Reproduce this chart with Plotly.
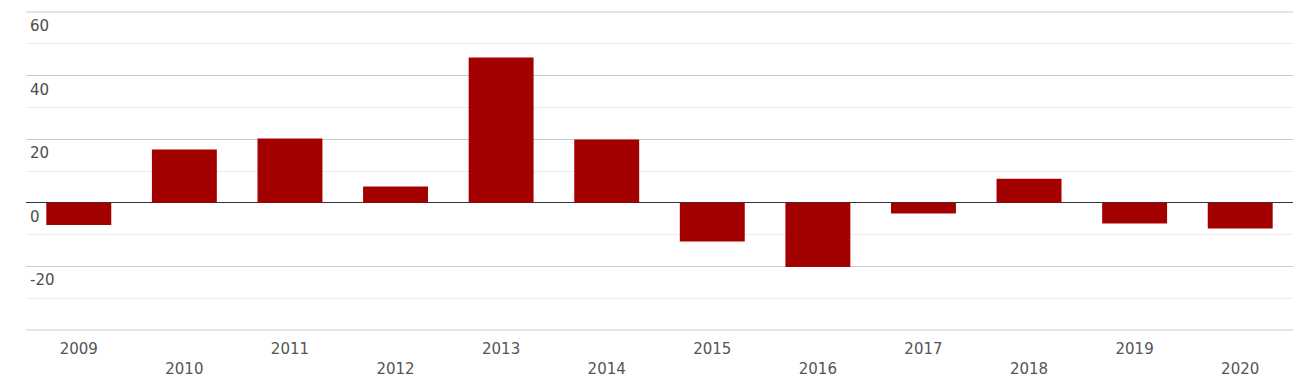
import plotly.graph_objects as go

years = ["2009", "2010", "2011", "2012", "2013", "2014", "2015", "2016", "2017", "2018", "2019", "2020"]
values = [-7.0, 16.8, 20.2, 5.1, 45.7, 19.9, -12.2, -20.2, -3.4, 7.6, -6.5, -8.1]
y_ticks = [-20, 0, 20, 40, 60]
y_tick_labels = ["-20", "0", "20", "40", "60"]
y_min, y_max = -40, 60

x_ticktext = [y if i % 2 == 0 else "<br>" + y for i, y in enumerate(years)]

fig = go.Figure(go.Bar(x=years, y=values, marker=dict(color="#a30000", line=dict(width=0))))

annotations = []
for v, t in zip(y_ticks, y_tick_labels):
    annotations.append(dict(x=0, xref="paper", y=v, yref="y", text=t, showarrow=False,
                            xanchor="left", yanchor="top", xshift=2, yshift=-3,
                            font=dict(family="DejaVu Sans", size=15, color="#4d4d4d")))

shapes = [dict(type="line", xref="paper", x0=0, x1=1, yref="y", y0=v, y1=v,
               line=dict(color="#cccccc", width=1), layer="below") for v in (y_min, y_max)]

pad = (y_max - y_min) * 1.0 / 318
fig.update_layout(
    width=1293, height=384,
    margin=dict(l=26, r=0, t=11, b=53),
    plot_bgcolor="white", paper_bgcolor="white",
    bargap=0.385,
    showlegend=False,
    annotations=annotations,
    shapes=shapes,
    xaxis=dict(tickmode="array", tickvals=years, ticktext=x_ticktext, showgrid=False,
               ticks="", ticklabelstandoff=7,
               tickfont=dict(family="DejaVu Sans", size=15, color="#555555"),
               showline=False, zeroline=False, fixedrange=True),
    yaxis=dict(range=[y_min - pad, y_max + pad], tickvals=y_ticks + [y_min], showticklabels=False,
               showgrid=True, gridcolor="#cccccc", gridwidth=1,
               minor=dict(dtick=10, tick0=0, showgrid=True, gridcolor="#ececec", gridwidth=1),
               zeroline=True, zerolinecolor="#333333", zerolinewidth=1,
               showline=False, fixedrange=True),
)

fig.write_html("out.html", config={"displayModeBar": False},
               post_script="document.body.style.margin='0';document.body.style.overflow='hidden';")
